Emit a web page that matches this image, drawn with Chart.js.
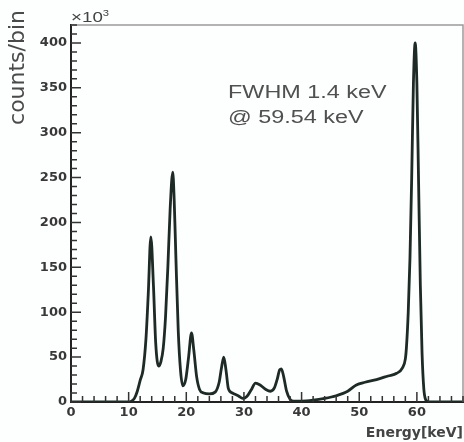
<!DOCTYPE html>
<html>
<head>
<meta charset="utf-8">
<script src="https://cdn.jsdelivr.net/npm/chart.js@4/dist/chart.umd.min.js"></script>
<style>
  body { margin: 0; background: #fff; }
  canvas { display: block; }
</style>
</head>
<body>
<canvas id="spectrum" width="464" height="442"></canvas>
<script>
// energy (keV) and counts per bin (x10^3)
const energy = [0, 10, 10.5, 11, 11.5, 12, 12.5, 13, 13.4, 13.85, 14.3, 14.7, 15.2, 15.6, 16.0, 16.4, 16.8, 17.2, 17.65, 17.9, 18.2, 18.6, 19.0, 19.4, 19.9, 20.4, 20.9, 21.3, 21.8, 22.3, 23, 24, 25, 25.7, 26.1, 26.5, 26.9, 27.3, 28, 29, 29.8, 30.5, 31.3, 32, 32.8, 33.8, 34.6, 35.3, 35.8, 36.2, 36.5, 36.9, 37.4, 38, 38.6, 40, 42, 44, 46, 48, 49.5, 51, 53, 55, 56.5, 57.5, 58.0, 58.2, 58.5, 58.8, 59.1, 59.4, 59.7, 60.0, 60.3, 60.6, 60.9, 61.2, 61.5, 62, 68];
const counts = [0, 0, 1, 4, 12, 24, 36, 70, 120, 184, 130, 65, 40, 45, 60, 95, 150, 215, 256, 225, 160, 80, 35, 18, 25, 50, 77, 58, 28, 14, 10, 9, 11, 22, 38, 50, 35, 15, 10, 7, 4, 6, 14, 21, 19, 14, 12, 16, 26, 36, 37, 28, 12, 3, 1, 1, 2, 4, 7, 12, 19, 22, 25, 29, 32, 38, 48, 62, 100, 160, 250, 355, 400, 355, 243, 130, 54, 15, 3, 0, 0];

const xMax = 68;
const yMax = 420;
const xTitle = 'Energy[keV]';
const yTitle = 'counts/bin';
const yUnit = '\u00d710';
const noteLines = ['FWHM 1.4 keV', '@ 59.54 keV'];

const tickColor = '#383838';

const points = energy.map((e, i) => ({ x: e, y: counts[i] }));

const rootStyle = {
  id: 'rootStyle',
  beforeDraw(chart) {
    const ctx = chart.ctx;
    ctx.save();
    ctx.fillStyle = '#fdfefe';
    ctx.fillRect(0, 0, chart.width, chart.height);
    ctx.restore();
  },
  afterDraw(chart) {
    const ctx = chart.ctx;
    const area = chart.chartArea;
    const xs = chart.scales.x;
    const ys = chart.scales.y;
    ctx.save();

    // light frame top and right
    ctx.strokeStyle = '#9a9a9a';
    ctx.lineWidth = 1.5;
    ctx.beginPath();
    ctx.moveTo(area.left, area.top);
    ctx.lineTo(area.right, area.top);
    ctx.lineTo(area.right, area.bottom);
    ctx.stroke();

    // inward tick marks
    ctx.strokeStyle = '#333';
    ctx.lineWidth = 1.5;
    ctx.beginPath();
    for (let v = 0; v <= xMax; v += 2) {
      const px = xs.getPixelForValue(v);
      const len = v % 10 === 0 ? 10 : 6;
      ctx.moveTo(px, area.bottom);
      ctx.lineTo(px, area.bottom - len);
    }
    for (let v = 0; v <= yMax; v += 10) {
      const py = ys.getPixelForValue(v);
      const len = v % 50 === 0 ? 10 : 6;
      ctx.moveTo(area.left, py);
      ctx.lineTo(area.left + len, py);
    }
    ctx.stroke();

    // y axis title, top aligned
    ctx.fillStyle = '#4a4a4a';
    ctx.font = '22px "DejaVu Sans"';
    ctx.translate(24, 10);
    ctx.rotate(-Math.PI / 2);
    ctx.textAlign = 'right';
    ctx.textBaseline = 'alphabetic';
    ctx.fillText(yTitle, 0, 0);
    ctx.setTransform(1, 0, 0, 1, 0, 0);

    // x10^3 multiplier
    ctx.fillStyle = '#444';
    ctx.textAlign = 'left';
    ctx.font = '15px "Liberation Sans"';
    ctx.save();
    ctx.translate(area.left, 22);
    ctx.scale(1.25, 1);
    ctx.fillText(yUnit, 0, 0);
    const w = ctx.measureText(yUnit).width;
    ctx.font = '9px "Liberation Sans"';
    ctx.fillText('3', w, -6);
    ctx.restore();

    // annotation
    ctx.fillStyle = '#505050';
    ctx.font = '18px "Liberation Sans"';
    noteLines.forEach((line, i) => {
      ctx.save();
      ctx.translate(228, 98 + i * 25);
      ctx.scale(1.3, 1);
      ctx.fillText(line, 0, 0);
      ctx.restore();
    });
    ctx.restore();
  }
};

new Chart(document.getElementById('spectrum'), {
  type: 'line',
  data: {
    datasets: [{
      data: points,
      borderColor: '#1d2a25',
      borderWidth: 2.8,
      pointRadius: 0,
      cubicInterpolationMode: 'monotone',
      fill: false
    }]
  },
  options: {
    responsive: false,
    animation: false,
    layout: { padding: { top: 25, right: 1, left: 0, bottom: 0 } },
    plugins: {
      legend: { display: false },
      tooltip: { enabled: false }
    },
    scales: {
      x: {
        type: 'linear',
        min: 0,
        max: xMax,
        afterFit(scale) { scale.height = 40; },
        afterBuildTicks(scale) {
          scale.ticks = scale.ticks.filter(t => t.value % 10 === 0);
        },
        ticks: {
          stepSize: 10,
          maxRotation: 0,
          padding: 3,
          color: tickColor,
          font: { family: 'DejaVu Sans', size: 13, weight: 'bold' }
        },
        grid: { display: true, drawOnChartArea: false, drawTicks: false },
        border: { display: true, color: '#222', width: 2 },
        title: {
          display: true,
          text: xTitle,
          align: 'end',
          color: '#444',
          padding: { top: 0, bottom: 0 },
          font: { family: 'DejaVu Sans', size: 14, weight: 'bold' }
        }
      },
      y: {
        min: 0,
        max: yMax,
        afterFit(scale) { scale.width = 71; },
        afterBuildTicks(scale) {
          scale.ticks = scale.ticks.filter(t => t.value % 50 === 0);
        },
        ticks: {
          stepSize: 50,
          padding: 4,
          color: tickColor,
          font: { family: 'DejaVu Sans', size: 13, weight: 'bold' }
        },
        grid: { display: true, drawOnChartArea: false, drawTicks: false },
        border: { display: true, color: '#222', width: 2 }
      }
    }
  },
  plugins: [rootStyle]
});
</script>
</body>
</html>
